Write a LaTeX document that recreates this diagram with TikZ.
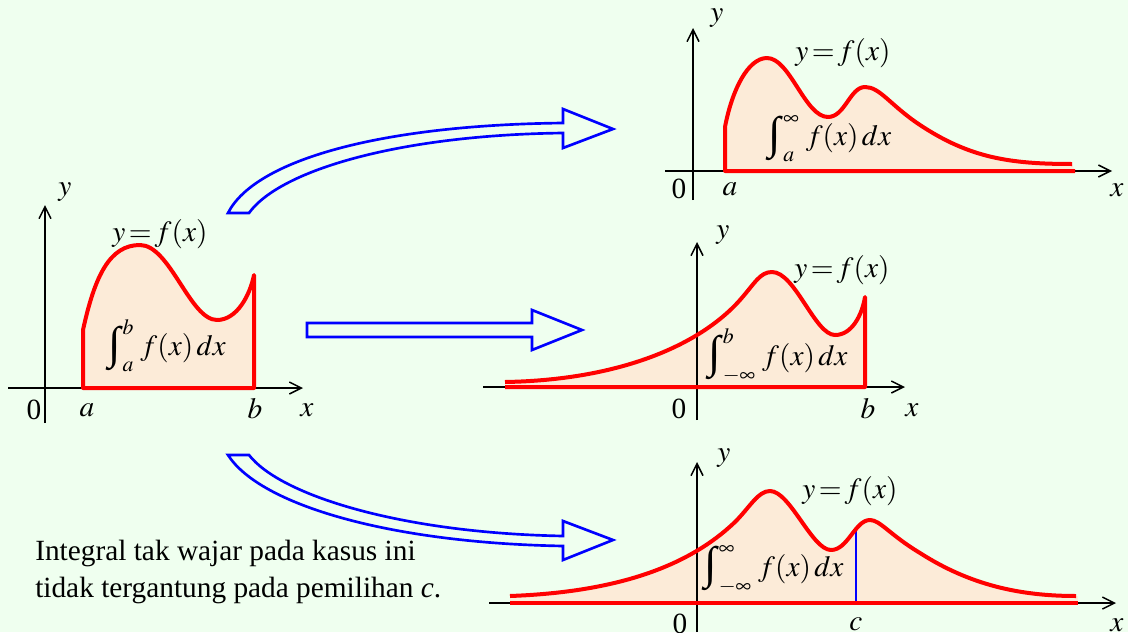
\documentclass[tikz,border=0pt]{standalone}
\usepackage{mathptmx}
\usepackage[no-math]{fontspec}
\setmainfont{Liberation Serif}
\usetikzlibrary{arrows.meta}
\definecolor{bg}{HTML}{EFFFEF}
\definecolor{ar}{HTML}{FCEBD8}
\definecolor{cv}{HTML}{FF0000}
\definecolor{bl}{HTML}{0000FF}
\newcommand{\Intg}{\mathop{\vcenter{\hbox{\fontsize{34}{34}\selectfont ∫\kern1.5pt}}}\nolimits}
\newcommand{\Fx}{$y\mkern-2mu=\mkern-2mu f(x)$}
\tikzset{
  axis/.style={black, line width=1.1pt, -{Straight Barb[length=9pt,width=9pt]}},
  curve/.style={draw=cv, line width=3pt, line join=round},
  fatarrow/.style={draw=bl, line width=2pt, line join=miter},
  lbl/.style={font=\fontsize{22}{28}\selectfont, inner sep=0pt},
}
\begin{document}
\begin{tikzpicture}[x=0.75pt, y=-0.75pt]
  \useasboundingbox (0,0) rectangle (1128,632);
  \fill[bg] (0,0) rectangle (1128,632);

  % left: proper integral
  \path[save path=\pathA] (83,330) .. controls (95,275) and (110,245) .. (140,245)
    .. controls (170,245) and (190,320) .. (217,320)
    .. controls (237,320) and (250,295) .. (254,275) -- (254,388) -- (83,388) -- cycle;
  \fill[ar, use path=\pathA];
  \draw[axis] (8,388) -- (303,388);
  \draw[axis] (45,423) -- (45,205);
  \draw[curve, use path=\pathA];
  \node[lbl] (ylA) at (65,192) {$y$};
  \node[lbl] (fxA) at (160,234) {\Fx};
  \node[lbl] (intA) at (167,346) {$\Intg_a^b\, f(x)\,dx$};
  \node[lbl] (zeroA) at (34,410) {0};
  \node[lbl] (aA) at (87,410) {$a$};
  \node[lbl] (bA) at (255,409) {$b$};
  \node[lbl] (xA) at (307,410) {$x$};

  % top right: a to infinity
  \path[save path=\pathB] (1075,171) -- (725,171) -- (725,127)
    .. controls (732,90) and (748,58) .. (767,58)
    .. controls (790,58) and (805,117) .. (828,117)
    .. controls (845,117) and (850,87) .. (865,87)
    .. controls (880,87) and (890,105) .. (920,125)
    .. controls (970,158) and (1010,164) .. (1072,164);
  \fill[ar, use path=\pathB];
  \draw[axis] (665,171) -- (1112,171);
  \draw[axis] (693,200) -- (693,28);
  \draw[curve, use path=\pathB];
  \node[lbl] (ylB) at (717,18) {$y$};
  \node[lbl] (fxB) at (843,53) {\Fx};
  \node[lbl] (intB) at (830,139) {$\Intg_a^\infty\, f(x)\,dx$};
  \node[lbl] (zeroB) at (679,189) {0};
  \node[lbl] (aB) at (730,189) {$a$};
  \node[lbl] (xB) at (1117,190) {$x$};

  % middle right: -infinity to b
  \path[save path=\pathC] (505,382) .. controls (620,380) and (700,345) .. (740,300)
    .. controls (755,283) and (760,272) .. (772,272)
    .. controls (795,272) and (815,335) .. (835,335)
    .. controls (852,335) and (862,315) .. (865,297) -- (865,387) -- (505,387);
  \fill[ar, use path=\pathC];
  \draw[axis] (483,387) -- (905,387);
  \draw[axis] (697,420) -- (697,242);
  \draw[curve, use path=\pathC];
  \node[lbl] (ylC) at (723,235) {$y$};
  \node[lbl] (fxC) at (842,270) {\Fx};
  \node[lbl] (intC) at (778,356) {$\Intg_{-\infty}^b\, f(x)\,dx$};
  \node[lbl] (zeroC) at (679,409) {0};
  \node[lbl] (bC) at (868,409) {$b$};
  \node[lbl] (xC) at (912,410) {$x$};

  % bottom right: -infinity to infinity
  \path[save path=\pathD] (510,596) .. controls (620,592) and (690,565) .. (735,522)
    .. controls (750,507) and (758,491) .. (770,491)
    .. controls (790,491) and (812,550) .. (831,550)
    .. controls (848,550) and (855,520) .. (870,520)
    .. controls (880,520) and (890,535) .. (920,553)
    .. controls (970,585) and (1020,596) .. (1076,596);
  \fill[ar] (510,596) rectangle (1078,603);
  \fill[ar, use path=\pathD];
  \draw[axis] (489,603) -- (1116,603);
  \draw[axis] (697,632) -- (697,462);
  \draw[bl, line width=1.5pt] (856,603) -- (856,530);
  \draw[curve, use path=\pathD];
  \draw[curve] (510,603) -- (1078,603);
  \node[lbl] (ylD) at (724,458) {$y$};
  \node[lbl] (fxD) at (850,491) {\Fx};
  \node[lbl] (intD) at (774,570) {$\Intg_{-\infty}^\infty\, f(x)\,dx$};
  \node[lbl] (zeroD) at (680,624) {0};
  \node[lbl] (cD) at (856,624) {$c$};
  \node[lbl] (xD) at (1117,625) {$x$};

  % fat arrows
  \draw[fatarrow] (228,213) .. controls (255,160) and (380,125) .. (563,123) -- (563,109) -- (613,129) -- (563,148) -- (563,133) .. controls (400,135) and (280,170) .. (249,213) -- cycle;
  \draw[fatarrow] (307,323) -- (532,323) -- (532,310) -- (582,330) -- (532,350) -- (532,337) -- (307,337) -- cycle;
  \draw[fatarrow] (228,455) .. controls (260,505) and (390,543) .. (563,546) -- (563,560) -- (613,540) -- (563,521) -- (563,536) .. controls (400,533) and (280,495) .. (249,455) -- cycle;

  \node[lbl, anchor=west, align=left] (note) at (35,572) {Integral tak wajar pada kasus ini\\tidak tergantung pada pemilihan \textit{c}.};
\end{tikzpicture}
\end{document}
